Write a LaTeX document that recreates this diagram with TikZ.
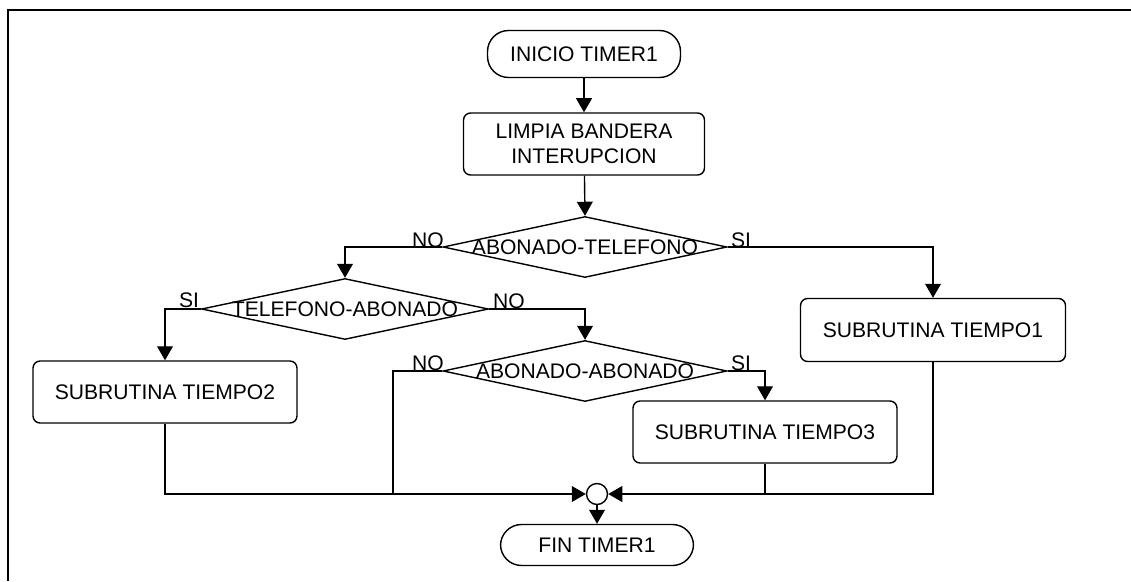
\documentclass[tikz,border=0pt]{standalone}
\usepackage{fontspec}
\setmainfont{Liberation Sans}
\usetikzlibrary{shapes.geometric,arrows.meta}

\tikzset{
    flow/.style={line width=0.8pt},
    arr/.style={flow,-{Triangle[length=8pt,width=9pt]}},
    term/.style={draw,line width=0.8pt,rounded corners=0.42cm,minimum width=3.86cm,inner sep=0pt},
    proc/.style={draw,line width=0.8pt,rounded corners=0.14cm,minimum width=5.28cm,minimum height=1.24cm,align=center,inner sep=0pt},
    decision/.style={draw,diamond,line width=0.8pt,minimum width=5.68cm,minimum height=1.22cm,inner sep=0pt},
    tag/.style={inner sep=0pt}
}

\begin{document}
\begin{tikzpicture}[x=0.02cm,y=-0.02cm,font=\fontsize{12}{14}\selectfont]
    \useasboundingbox (0,0) rectangle (1131,581);

    % frame
    \draw [line width=1.4pt] (1131,10) -- (8,10) -- (8,581);

    \node [term,minimum height=0.94cm] (inicio) at (584,54) {INICIO TIMER1};
    \node [proc,minimum width=4.82cm] (limpia) at (584,144) {LIMPIA BANDERA\\INTERUPCION};

    \node [decision,label=center:{ABONADO-TELEFONO}] (abtel) at (585,247) {};
    \node [decision,minimum width=5.74cm,label=center:{TELEFONO-ABONADO}] (telab) at (345,309) {};
    \node [decision,label=center:{ABONADO-ABONADO}] (abab) at (585,371) {};

    \node [proc,minimum width=5.3cm,minimum height=1.26cm] (tiempo1) at (933,330) {SUBRUTINA TIEMPO1};
    \node [proc] (tiempo2) at (165,392) {SUBRUTINA TIEMPO2};
    \node [proc] (tiempo3) at (765,432) {SUBRUTINA TIEMPO3};

    \node [draw,circle,line width=0.8pt,minimum size=0.42cm,inner sep=0pt] (union) at (597,494) {};
    \node [term,minimum height=0.82cm] (fin) at (597,545) {FIN TIMER1};

    % etiquetas
    \node [tag] (no1) at (428,240) {NO};
    \node [tag] (si1) at (741,240) {SI};
    \node [tag] (si2) at (189,300) {SI};
    \node [tag] (no2) at (509,301) {NO};
    \node [tag] (no3) at (428,363) {NO};
    \node [tag] (si3) at (741,363) {SI};

    \coordinate (no3b) at (393,494);
    \coordinate (t3b) at (765,494);

    \draw [arr] (inicio) -- (limpia);
    \draw [arr] (limpia) -- (abtel.north);
    \draw [arr] (abtel.west) -| (telab.north);
    \draw [arr] (abtel.east) -| (tiempo1.north);
    \draw [arr] (telab.west) -| (tiempo2.north);
    \draw [arr] (telab.east) -| (abab.north);
    \draw [arr] (abab.east) -| (tiempo3.north);
    \draw [flow] (abab.west) -| (no3b);
    \draw [flow] (tiempo3.south) -- (t3b);
    \draw [arr] (tiempo2.south) |- (union.west);
    \draw [arr] (tiempo1.south) |- (union.east);
    \draw [arr] (union) -- (fin);
\end{tikzpicture}
\end{document}
